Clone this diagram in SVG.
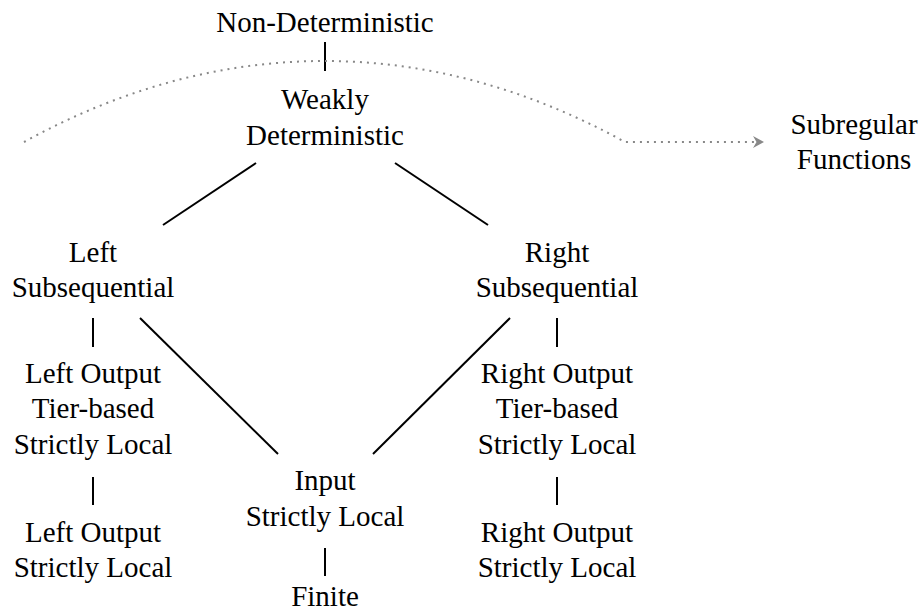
<svg xmlns="http://www.w3.org/2000/svg" width="919" height="606" viewBox="0 0 919 606">
<defs>
<style>
text{font-family:"Liberation Serif","Times New Roman","DejaVu Serif",serif;font-size:29px;fill:#000;text-anchor:middle}
.e{stroke:#000;stroke-width:2;fill:none}
.d{stroke:#888;stroke-width:2;fill:none;stroke-dasharray:2 5}
</style>
<marker id="ah" markerWidth="14" markerHeight="14" refX="11" refY="6" orient="auto" markerUnits="userSpaceOnUse">
<path d="M0,0 L11,6 L0,12 L3.5,6 z" fill="#888"/>
</marker>
</defs>
<rect width="919" height="606" fill="#fff"/>
<g id="connectors">
<line class="e" x1="325" y1="42" x2="325" y2="71"/>
<line class="e" x1="256" y1="163" x2="163" y2="225"/>
<line class="e" x1="395" y1="163" x2="488" y2="225"/>
<line class="e" x1="93" y1="318" x2="93" y2="347"/>
<line class="e" x1="557" y1="318" x2="557" y2="347"/>
<line class="e" x1="93" y1="477" x2="93" y2="505"/>
<line class="e" x1="557" y1="477" x2="557" y2="505"/>
<line class="e" x1="140" y1="318" x2="278" y2="454"/>
<line class="e" x1="510" y1="318" x2="373" y2="454"/>
<line class="e" x1="325" y1="548" x2="325" y2="576"/>
<path class="d" d="M24,142 C220,34 429,34 625,142 L764,142" marker-end="url(#ah)"/>
</g>
<g id="nondet"><text x="325" y="32">Non-Deterministic</text></g>
<g id="weakly"><text x="325" y="109">Weakly</text><text x="325" y="145">Deterministic</text></g>
<g id="subregular"><text x="854" y="134">Subregular</text><text x="854" y="169">Functions</text></g>
<g id="leftsub"><text x="93" y="262">Left</text><text x="93" y="297">Subsequential</text></g>
<g id="rightsub"><text x="557" y="262">Right</text><text x="557" y="297">Subsequential</text></g>
<g id="lotsl"><text x="93" y="383">Left Output</text><text x="93" y="418">Tier-based</text><text x="93" y="454">Strictly Local</text></g>
<g id="rotsl"><text x="557" y="383">Right Output</text><text x="557" y="418">Tier-based</text><text x="557" y="454">Strictly Local</text></g>
<g id="losl"><text x="93" y="542">Left Output</text><text x="93" y="577">Strictly Local</text></g>
<g id="rosl"><text x="557" y="542">Right Output</text><text x="557" y="577">Strictly Local</text></g>
<g id="isl"><text x="325" y="490">Input</text><text x="325" y="526">Strictly Local</text></g>
<g id="finite"><text x="325" y="606">Finite</text></g>
</svg>
